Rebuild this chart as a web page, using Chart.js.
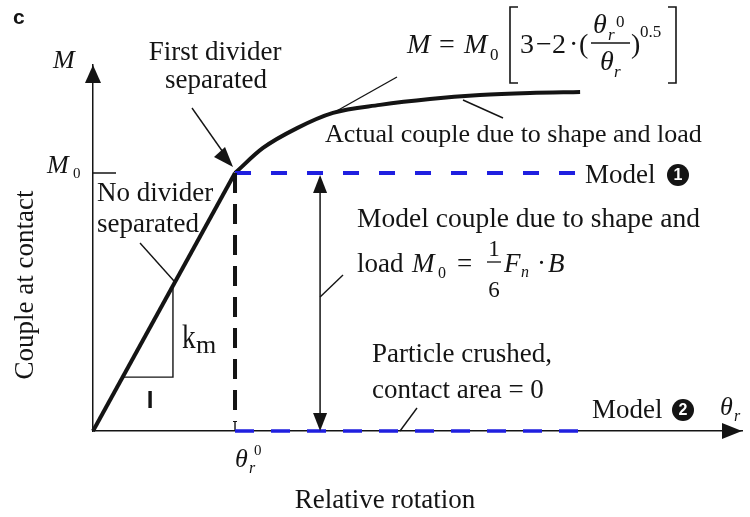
<!DOCTYPE html>
<html>
<head>
<meta charset="utf-8">
<script src="https://cdn.jsdelivr.net/npm/chart.js@4/dist/chart.umd.min.js"></script>
<style>
  html, body { margin: 0; padding: 0; background: #fff; }
  #wrap { width: 750px; height: 517px; }
</style>
</head>
<body>
<div id="wrap"><canvas id="c" width="750" height="517"></canvas></div>
<script>
// Normalised rotation (theta / theta_r^0) and couple (M / M0)
const theta0 = 1;
const M0 = 1;

// elastic branch before the first divider separates
const thetaLinear = [0, 1];
const momentLinear = [0, 1];

// actual couple after the first divider separates
const thetaCurve = [1, 1.197, 1.437, 1.690, 2.021, 2.373, 2.725, 3.077, 3.430];
const momentCurve = [1, 1.097, 1.174, 1.233, 1.264, 1.287, 1.302, 1.310, 1.314];

// model 1 (constant M0) and model 2 (crushed, zero couple)
const thetaModel = [1, 3.43];
const momentModel1 = [1, 1];
const momentModel2 = [0, 0];

// slope triangle for k_m
const slopeTriTheta = [0.209, 0.563, 0.563];
const slopeTriMoment = [0.209, 0.209, 0.563];

// position of the double arrow between the two models
const arrowTheta = 1.599;

// axis extents
const thetaMax = 4.57;
const momentMax = 1.4186;

const pts = (xs, ys) => xs.map((x, i) => ({ x, y: ys[i] }));

const SERIF = '"Liberation Serif", "Times New Roman", serif';
const SANS = '"Liberation Sans", Arial, sans-serif';
const INK = '#141414';
const BLUE = '#1f1fe0';

function tri(ctx, tip, b1, b2) {
  ctx.beginPath();
  ctx.moveTo(tip[0], tip[1]);
  ctx.lineTo(b1[0], b1[1]);
  ctx.lineTo(b2[0], b2[1]);
  ctx.closePath();
  ctx.fill();
}
function seg(ctx, x1, y1, x2, y2, w) {
  ctx.lineWidth = w || 1.4;
  ctx.beginPath();
  ctx.moveTo(x1, y1);
  ctx.lineTo(x2, y2);
  ctx.stroke();
}
function txt(ctx, s, x, y, font, align) {
  ctx.font = font;
  ctx.textAlign = align || 'left';
  ctx.textBaseline = 'alphabetic';
  ctx.fillText(s, x, y);
}
function circledNum(ctx, n, cx, cy) {
  ctx.fillStyle = INK;
  ctx.beginPath();
  ctx.arc(cx, cy, 11, 0, Math.PI * 2);
  ctx.fill();
  ctx.fillStyle = '#fff';
  ctx.font = 'bold 16px ' + SANS;
  ctx.textAlign = 'center';
  ctx.textBaseline = 'middle';
  ctx.fillText(n, cx, cy + 1);
  ctx.fillStyle = INK;
}

const annotations = {
  id: 'annotations',
  afterDatasetsDraw(chart) {
    const { ctx, chartArea: a, scales: { x, y } } = chart;
    const px = v => x.getPixelForValue(v);
    const py = v => y.getPixelForValue(v);
    ctx.save();
    ctx.fillStyle = INK;
    ctx.strokeStyle = INK;

    // axis arrowheads
    tri(ctx, [a.right, py(0)], [a.right - 20, py(0) - 8], [a.right - 20, py(0) + 8]);
    tri(ctx, [px(0), a.top], [px(0) - 8, a.top + 18], [px(0) + 8, a.top + 18]);

    // M0 tick on the couple axis
    seg(ctx, px(0), py(M0), px(0) + 23, py(M0), 1.5);

    // double arrow between model 1 and model 2
    const ax = px(arrowTheta);
    seg(ctx, ax, py(M0) + 14, ax, py(0) - 14, 1.5);
    tri(ctx, [ax, py(M0) + 2], [ax - 7, py(M0) + 20], [ax + 7, py(M0) + 20]);
    tri(ctx, [ax, py(0)], [ax - 7, py(0) - 18], [ax + 7, py(0) - 18]);

    // "First divider separated" pointer
    const tx = px(theta0) - 2, ty = py(M0) - 6;
    seg(ctx, 192, 108, tx - 8, ty - 12, 1.4);
    tri(ctx, [tx, ty], [tx - 19, ty - 10], [tx - 8, ty - 20]);

    // leader lines
    seg(ctx, 333, 113, 397, 77, 1.4);
    seg(ctx, 463, 100, 503, 118, 1.4);
    seg(ctx, 140, 243, 174, 281, 1.4);
    seg(ctx, 417, 408, 400, py(0), 1.4);
    seg(ctx, 343, 275, ax, 297, 1.4);

    // panel letter
    txt(ctx, 'c', 13, 24, 'bold 21px ' + SANS);

    // axis symbols
    txt(ctx, 'M', 53, 68, 'italic 26px ' + SERIF);
    txt(ctx, 'M', 47, 173, 'italic 26px ' + SERIF);
    txt(ctx, '0', 73, 178, '15px ' + SERIF);
    txt(ctx, 'θ', 720, 415, 'italic 26px ' + SERIF);
    txt(ctx, 'r', 734, 421, 'italic 16px ' + SERIF);
    txt(ctx, 'θ', px(theta0), 467, 'italic 26px ' + SERIF);
    txt(ctx, '0', 254, 455, '15px ' + SERIF);
    txt(ctx, 'r', 249, 473, 'italic 16px ' + SERIF);

    // axis titles
    txt(ctx, 'Relative rotation', 385, 508, '27px ' + SERIF, 'center');
    ctx.save();
    ctx.translate(33, 285);
    ctx.rotate(-Math.PI / 2);
    txt(ctx, 'Couple at contact', 0, 0, '27px ' + SERIF, 'center');
    ctx.restore();

    // descriptive labels
    const F = '27px ' + SERIF;
    txt(ctx, 'First divider', 215, 60, F, 'center');
    txt(ctx, 'separated', 216, 88, F, 'center');
    txt(ctx, 'No divider', 97, 201, F);
    txt(ctx, 'separated', 97, 232, F);
    txt(ctx, 'Actual couple due to shape and load', 325, 142, '26px ' + SERIF);
    txt(ctx, 'Model couple due to shape and', 357, 227, '27.5px ' + SERIF);
    txt(ctx, 'Particle crushed,', 372, 362, F);
    txt(ctx, 'contact area = 0', 372, 398, F);
    txt(ctx, 'Model', 585, 183, F);
    circledNum(ctx, '1', 678, 175);
    txt(ctx, 'Model', 592, 418, F);
    circledNum(ctx, '2', 683, 410);

    // slope label
    ctx.save();
    ctx.translate(182, 348);
    ctx.scale(0.8, 1);
    txt(ctx, 'k', 0, 0, '34px ' + SERIF);
    ctx.restore();
    txt(ctx, 'm', 196, 353, '26px ' + SERIF);
    txt(ctx, 'I', 150, 408, 'bold 24px ' + SANS, 'center');

    // M0 = 1/6 Fn . B
    txt(ctx, 'load', 357, 272, F);
    txt(ctx, 'M', 412, 272, 'italic 27px ' + SERIF);
    txt(ctx, '0', 438, 278, '16px ' + SERIF);
    txt(ctx, '=', 457, 272, F);
    txt(ctx, '1', 494, 256, '23px ' + SERIF, 'center');
    seg(ctx, 487, 262, 501, 262, 1.3);
    txt(ctx, '6', 494, 297, '23px ' + SERIF, 'center');
    txt(ctx, 'F', 504, 272, 'italic 27px ' + SERIF);
    txt(ctx, 'n', 521, 277, 'italic 16px ' + SERIF);
    txt(ctx, '·', 537, 272, F);
    txt(ctx, 'B', 548, 272, 'italic 27px ' + SERIF);

    // M = M0 [3 - 2 (theta_r^0 / theta_r)^0.5]
    const G = '28px ' + SERIF, GI = 'italic 28px ' + SERIF;
    txt(ctx, 'M', 407, 53, GI);
    txt(ctx, '=', 439, 53, G);
    txt(ctx, 'M', 464, 53, GI);
    txt(ctx, '0', 490, 60, '17px ' + SERIF);
    ctx.lineWidth = 1.6;
    ctx.beginPath();
    ctx.moveTo(518, 7); ctx.lineTo(510, 7); ctx.lineTo(510, 83); ctx.lineTo(518, 83);
    ctx.moveTo(668, 7); ctx.lineTo(676, 7); ctx.lineTo(676, 83); ctx.lineTo(668, 83);
    ctx.stroke();
    txt(ctx, '3', 520, 53, G);
    txt(ctx, '−', 536, 53, G);
    txt(ctx, '2', 552, 53, G);
    txt(ctx, '·', 569, 53, G);
    txt(ctx, '(', 579, 53, G);
    txt(ctx, 'θ', 593, 33, GI);
    txt(ctx, 'r', 608, 40, 'italic 17px ' + SERIF);
    txt(ctx, '0', 616, 27, '17px ' + SERIF);
    seg(ctx, 591, 43, 630, 43, 1.4);
    txt(ctx, 'θ', 600, 70, GI);
    txt(ctx, 'r', 614, 77, 'italic 17px ' + SERIF);
    txt(ctx, ')', 631, 53, G);
    txt(ctx, '0.5', 640, 37, '17px ' + SERIF);

    ctx.restore();
  }
};

const thin = { pointRadius: 0, showLine: true, borderColor: INK, borderWidth: 1.4, tension: 0, clip: false };

new Chart(document.getElementById('c'), {
  type: 'scatter',
  data: {
    datasets: [
      Object.assign({}, thin, { data: pts(slopeTriTheta, slopeTriMoment) }),
      { data: pts(thetaModel, momentModel2), showLine: true, pointRadius: 0, clip: false,
        borderColor: BLUE, borderWidth: 3.5, borderDash: [19, 17], tension: 0 },
      { data: [{ x: theta0, y: M0 }, { x: theta0, y: 0.035 }], showLine: true, pointRadius: 0, clip: false,
        borderColor: INK, borderWidth: 4, borderDash: [20, 11], tension: 0 },
      Object.assign({}, thin, { data: [{ x: theta0, y: 0.035 }, { x: theta0, y: 0 }] }),
      { data: pts(thetaModel, momentModel1), showLine: true, pointRadius: 0, clip: false,
        borderColor: BLUE, borderWidth: 4, borderDash: [16, 20], tension: 0 },
      { data: pts(thetaLinear, momentLinear), showLine: true, pointRadius: 0, clip: false,
        borderColor: INK, borderWidth: 4, tension: 0 },
      { data: pts(thetaCurve, momentCurve), showLine: true, pointRadius: 0, clip: false,
        borderColor: INK, borderWidth: 4, cubicInterpolationMode: 'monotone' }
    ]
  },
  options: {
    responsive: false,
    animation: false,
    devicePixelRatio: 1,
    layout: { padding: { left: 93, right: 8, top: 65, bottom: 86 } },
    plugins: { legend: { display: false }, tooltip: { enabled: false } },
    scales: {
      x: {
        type: 'linear', min: 0, max: thetaMax,
        grid: { display: false, drawTicks: false },
        ticks: { display: false },
        border: { display: true, color: INK, width: 1.5 }
      },
      y: {
        type: 'linear', min: 0, max: momentMax,
        grid: { display: false, drawTicks: false },
        ticks: { display: false },
        border: { display: true, color: INK, width: 1.5 }
      }
    }
  },
  plugins: [annotations]
});
</script>
</body>
</html>
